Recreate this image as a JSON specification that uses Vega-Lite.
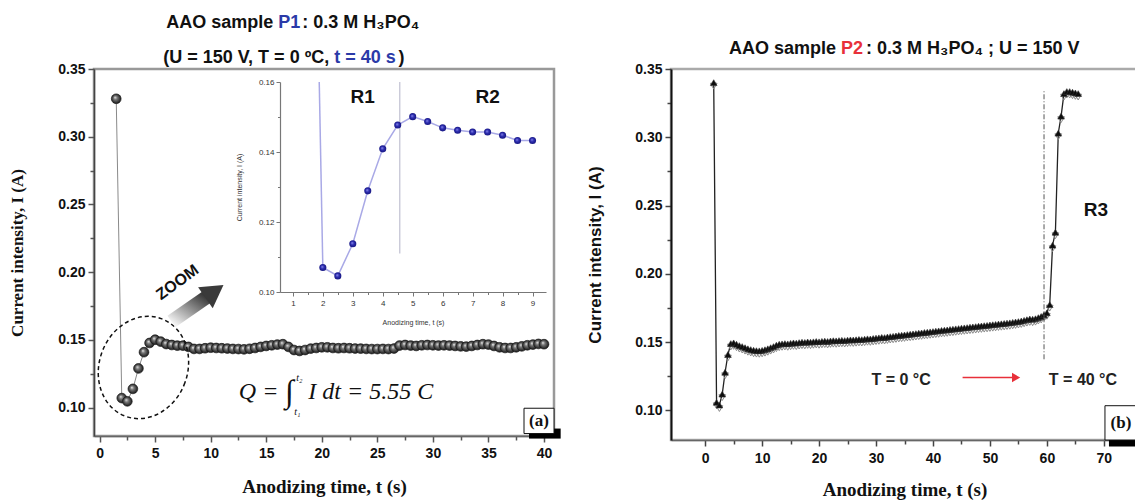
{
"$schema": "https://vega.github.io/schema/vega-lite/v6.json",
"padding": {"left": 7, "top": 13, "right": 0, "bottom": 0},
"spacing": 117,
"bounds": "flush",
"background": "white",
"datasets": {
"p1": [
{"t":1.5,"I":0.328},{"t":2,"I":0.107},{"t":2.5,"I":0.1046},{"t":3,"I":0.1138},{"t":3.5,"I":0.1289},{"t":4,"I":0.1409},{"t":4.5,"I":0.1477},{"t":5,"I":0.1501},{"t":5.5,"I":0.1487},{"t":6,"I":0.1469},{"t":6.5,"I":0.1462},{"t":7,"I":0.1457},{"t":7.5,"I":0.1457},{"t":8,"I":0.1448},{"t":8.5,"I":0.1433},{"t":9,"I":0.1433},{"t":9.5,"I":0.1438},{"t":10,"I":0.1442},{"t":10.5,"I":0.144},{"t":11,"I":0.1438},{"t":11.5,"I":0.1436},{"t":12,"I":0.1433},{"t":12.5,"I":0.1432},{"t":13,"I":0.143},{"t":13.5,"I":0.1434},{"t":14,"I":0.144},{"t":14.5,"I":0.1448},{"t":15,"I":0.1455},{"t":15.5,"I":0.146},{"t":16,"I":0.1465},{"t":16.5,"I":0.1468},{"t":17,"I":0.1448},{"t":17.5,"I":0.1425},{"t":18,"I":0.1418},{"t":18.5,"I":0.1425},{"t":19,"I":0.1435},{"t":19.5,"I":0.144},{"t":20,"I":0.1445},{"t":20.5,"I":0.1445},{"t":21,"I":0.144},{"t":21.5,"I":0.1438},{"t":22,"I":0.144},{"t":22.5,"I":0.1438},{"t":23,"I":0.1436},{"t":23.5,"I":0.1435},{"t":24,"I":0.1433},{"t":24.5,"I":0.1432},{"t":25,"I":0.1432},{"t":25.5,"I":0.1433},{"t":26,"I":0.1432},{"t":26.5,"I":0.1436},{"t":27,"I":0.1458},{"t":27.5,"I":0.1462},{"t":28,"I":0.1458},{"t":28.5,"I":0.1455},{"t":29,"I":0.146},{"t":29.5,"I":0.1462},{"t":30,"I":0.146},{"t":30.5,"I":0.1458},{"t":31,"I":0.146},{"t":31.5,"I":0.1458},{"t":32,"I":0.1455},{"t":32.5,"I":0.1452},{"t":33,"I":0.145},{"t":33.5,"I":0.1455},{"t":34,"I":0.1462},{"t":34.5,"I":0.1468},{"t":35,"I":0.1465},{"t":35.5,"I":0.1455},{"t":36,"I":0.1445},{"t":36.5,"I":0.144},{"t":37,"I":0.144},{"t":37.5,"I":0.1445},{"t":38,"I":0.1452},{"t":38.5,"I":0.146},{"t":39,"I":0.1465},{"t":39.5,"I":0.147},{"t":40,"I":0.1468}
],
"p2": [
{"t":1.5,"I":0.34},{"t":2,"I":0.106},{"t":2.5,"I":0.104},{"t":3,"I":0.112},{"t":3.5,"I":0.128},{"t":4,"I":0.141},{"t":4.5,"I":0.149},{"t":5,"I":0.1495},{"t":5.5,"I":0.1485},{"t":6,"I":0.1475},{"t":6.5,"I":0.1468},{"t":7,"I":0.146},{"t":7.5,"I":0.1452},{"t":8,"I":0.1446},{"t":8.5,"I":0.1441},{"t":9,"I":0.1438},{"t":9.5,"I":0.1437},{"t":10,"I":0.144},{"t":10.5,"I":0.1445},{"t":11,"I":0.1452},{"t":11.5,"I":0.146},{"t":12,"I":0.1468},{"t":12.5,"I":0.1478},{"t":13,"I":0.1485},{"t":13.5,"I":0.1488},{"t":14,"I":0.149},{"t":14.5,"I":0.1488},{"t":15,"I":0.1492},{"t":15.5,"I":0.1495},{"t":16,"I":0.1493},{"t":16.5,"I":0.1497},{"t":17,"I":0.15},{"t":17.5,"I":0.1498},{"t":18,"I":0.1502},{"t":18.5,"I":0.15},{"t":19,"I":0.1503},{"t":19.5,"I":0.1505},{"t":20,"I":0.1503},{"t":20.5,"I":0.1506},{"t":21,"I":0.1508},{"t":21.5,"I":0.1505},{"t":22,"I":0.1509},{"t":22.5,"I":0.1511},{"t":23,"I":0.151},{"t":23.5,"I":0.1512},{"t":24,"I":0.1514},{"t":24.5,"I":0.1512},{"t":25,"I":0.1515},{"t":25.5,"I":0.1517},{"t":26,"I":0.1516},{"t":26.5,"I":0.1518},{"t":27,"I":0.152},{"t":27.5,"I":0.1519},{"t":28,"I":0.1522},{"t":28.5,"I":0.1525},{"t":29,"I":0.1524},{"t":29.5,"I":0.1527},{"t":30,"I":0.153},{"t":30.5,"I":0.1532},{"t":31,"I":0.1535},{"t":31.5,"I":0.1534},{"t":32,"I":0.1538},{"t":32.5,"I":0.1541},{"t":33,"I":0.1543},{"t":33.5,"I":0.1546},{"t":34,"I":0.1549},{"t":34.5,"I":0.1551},{"t":35,"I":0.1553},{"t":35.5,"I":0.1556},{"t":36,"I":0.1558},{"t":36.5,"I":0.1561},{"t":37,"I":0.1563},{"t":37.5,"I":0.1566},{"t":38,"I":0.1568},{"t":38.5,"I":0.1571},{"t":39,"I":0.1573},{"t":39.5,"I":0.1576},{"t":40,"I":0.1578},{"t":40.5,"I":0.1581},{"t":41,"I":0.1583},{"t":41.5,"I":0.1586},{"t":42,"I":0.1588},{"t":42.5,"I":0.159},{"t":43,"I":0.1593},{"t":43.5,"I":0.1595},{"t":44,"I":0.1598},{"t":44.5,"I":0.16},{"t":45,"I":0.1603},{"t":45.5,"I":0.1605},{"t":46,"I":0.1607},{"t":46.5,"I":0.161},{"t":47,"I":0.1612},{"t":47.5,"I":0.1614},{"t":48,"I":0.1617},{"t":48.5,"I":0.1619},{"t":49,"I":0.1621},{"t":49.5,"I":0.1623},{"t":50,"I":0.1626},{"t":50.5,"I":0.1628},{"t":51,"I":0.163},{"t":51.5,"I":0.1633},{"t":52,"I":0.1635},{"t":52.5,"I":0.1637},{"t":53,"I":0.164},{"t":53.5,"I":0.1642},{"t":54,"I":0.1645},{"t":54.5,"I":0.1648},{"t":55,"I":0.1651},{"t":55.5,"I":0.1655},{"t":56,"I":0.166},{"t":56.5,"I":0.1665},{"t":57,"I":0.167},{"t":57.5,"I":0.1668},{"t":58,"I":0.1672},{"t":58.5,"I":0.168},{"t":59,"I":0.1688},{"t":59.5,"I":0.17},{"t":60,"I":0.1715},{"t":60.5,"I":0.1775},{"t":61,"I":0.221},{"t":61.5,"I":0.2305},{"t":62,"I":0.303},{"t":62.5,"I":0.3155},{"t":63,"I":0.332},{"t":63.5,"I":0.3335},{"t":64,"I":0.3335},{"t":64.5,"I":0.333},{"t":65,"I":0.3325},{"t":65.5,"I":0.332}
]
},
"hconcat": [
{
"width": 460, "height": 367,
"view": {"stroke": "#999", "strokeWidth": 2.5},
"layer": [
{
"encoding": {
"x": {"field": "t", "type": "quantitative", "scale": {"domain": [-0.5, 40.9], "nice": false, "zero": false},
"axis": {"orient": "bottom", "title": "Anodizing time, t (s)", "values": [0,2.5,5,7.5,10,12.5,15,17.5,20,22.5,25,27.5,30,32.5,35,37.5,40],
"labelExpr": "datum.value % 5 === 0 ? format(datum.value, 'd') : ''",
"tickSize": {"condition": {"test": "datum.value % 5 === 0", "value": 6}, "value": 4},
"labelFont": "Liberation Sans", "labelFontWeight": "bold", "labelFontSize": 14, "labelColor": "#111", "labelPadding": 4,
"domainColor": "#666", "domainWidth": 1.5, "tickColor": "#555", "tickWidth": 1.5,
"titleFont": "Liberation Serif", "titleFontWeight": "bold", "titleFontSize": 19, "titleColor": "#111", "titlePadding": 17, "grid": false}},
"y": {"field": "I", "type": "quantitative", "scale": {"domain": [0.079, 0.35], "nice": false, "zero": false},
"axis": {"orient": "left", "title": "Current intensity, I (A)", "values": [0.1,0.125,0.15,0.175,0.2,0.225,0.25,0.275,0.3,0.325,0.35],
"labelExpr": "abs(datum.value*20-round(datum.value*20)) < 0.001 ? format(datum.value, '.2f') : ''",
"tickSize": {"condition": {"test": "abs(datum.value*20-round(datum.value*20)) < 0.001", "value": 6}, "value": 4},
"labelFont": "Liberation Sans", "labelFontWeight": "bold", "labelFontSize": 14, "labelColor": "#111", "labelPadding": 3,
"domainColor": "#444", "domainWidth": 1.5, "tickColor": "#555", "tickWidth": 1.5,
"titleFont": "Liberation Serif", "titleFontWeight": "bold", "titleFontSize": 17, "titleColor": "#111", "titlePadding": 31, "grid": false}}
},
"layer": [
{"data": {"name": "p1"}, "mark": {"type": "line", "color": "#8a8a8a", "strokeWidth": 1}},
{"data": {"name": "p1"}, "mark": {"type": "point", "filled": true, "opacity": 1, "size": 95, "strokeWidth": 0.7, "stroke": "#1a1a1a",
"fill": {"gradient": "radial", "x1": 0.38, "y1": 0.35, "r1": 0, "x2": 0.5, "y2": 0.5, "r2": 0.55, "stops": [{"offset": 0, "color": "#f0f0f0"}, {"offset": 0.33, "color": "#7a7a7a"}, {"offset": 1, "color": "#0d0d0d"}]}}},
{"data": {"values": [{"t": 3.95, "I": 0.1296}]}, "mark": {"type": "point", "shape": "M 0.85 0 C 0.85 0.5523 0.4695 1 0 1 C -0.4695 1 -0.85 0.5523 -0.85 0 C -0.85 -0.5523 -0.4695 -1 0 -1 C 0.4695 -1 0.85 -0.5523 0.85 0 Z", "size": 10816, "filled": false, "opacity": 1, "stroke": "#111", "strokeWidth": 1.5, "strokeDash": [4, 3], "angle": 20}},
{"data": {"values": [{"t": 6.47, "I": 0.1636, "t2": 9.62, "I2": 0.1814}]}, "mark": {"type": "rule", "strokeWidth": 14, "strokeCap": "butt",
"stroke": {"gradient": "linear", "x1": 0, "y1": 1, "x2": 1, "y2": 0, "stops": [{"offset": 0, "color": "#f2f2f2"}, {"offset": 1, "color": "#3a3a3a"}]}},
"encoding": {"x2": {"field": "t2"}, "y2": {"field": "I2"}}},
{"data": {"values": [{"t": 10.34, "I": 0.1858}]}, "mark": {"type": "point", "shape": "triangle-right", "size": 650, "filled": true, "opacity": 1, "fill": "#3a3a3a", "strokeWidth": 0, "angle": -35}},
{"data": {"values": [{"t": 7.01, "I": 0.1925, "label": "ZOOM"}]}, "mark": {"type": "text", "font": "Liberation Sans", "fontWeight": "bold", "fontSize": 16, "angle": -36, "color": "#111"}, "encoding": {"text": {"field": "label"}}},
{"data": {"values": [{"t": 16.09, "I": 0.1118, "label": "Q ="}]}, "mark": {"type": "text", "font": "Liberation Serif", "fontStyle": "italic", "fontSize": 24, "align": "right", "baseline": "middle", "color": "#111"}, "encoding": {"text": {"field": "label"}}},
{"data": {"values": [{"t": 17.08, "I": 0.1118, "label": "∫"}]}, "mark": {"type": "text", "font": "Liberation Serif", "fontStyle": "italic", "fontSize": 32, "align": "center", "baseline": "middle", "color": "#111"}, "encoding": {"text": {"field": "label"}}},
{"data": {"values": [{"t": 18.79, "I": 0.1118, "label": "I dt = 5.55 C"}]}, "mark": {"type": "text", "font": "Liberation Serif", "fontStyle": "italic", "fontSize": 24, "align": "left", "baseline": "middle", "color": "#111"}, "encoding": {"text": {"field": "label"}}},
{"data": {"values": [{"t": 17.7, "I": 0.1215, "label": "t₂"}, {"t": 17.53, "I": 0.097, "label": "t₁"}]}, "mark": {"type": "text", "font": "Liberation Serif", "fontStyle": "italic", "fontSize": 10, "align": "left", "baseline": "middle", "color": "#111"}, "encoding": {"text": {"field": "label"}}},
{"data": {"values": [{"t": 38.65, "I": 0.0771, "t2": 41.5, "I2": 0.0845}]}, "mark": {"type": "rect", "color": "#000"}, "encoding": {"x2": {"field": "t2"}, "y2": {"field": "I2"}}},
{"data": {"values": [{"t": 38.2, "I": 0.0808, "t2": 40.9, "I2": 0.0995}]}, "mark": {"type": "rect", "fill": "#fff", "stroke": "#111", "strokeWidth": 1}, "encoding": {"x2": {"field": "t2"}, "y2": {"field": "I2"}}},
{"data": {"values": [{"t": 39.55, "I": 0.0898, "label": "(a)"}]}, "mark": {"type": "text", "font": "Liberation Serif", "fontWeight": "bold", "fontSize": 17, "align": "center", "baseline": "middle", "color": "#111"}, "encoding": {"text": {"field": "label"}}},
{"data": {"values": [{"t": 15.64, "I": 0.3837, "label": "AAO sample"}, {"t": 20.67, "I": 0.3581, "label": "(U = 150 V, T = 0 ºC,"}]}, "mark": {"type": "text", "font": "Liberation Sans", "fontWeight": "bold", "fontSize": 18, "align": "right", "baseline": "middle", "color": "#111"}, "encoding": {"text": {"field": "label"}}},
{"data": {"values": [{"t": 18.25, "I": 0.3837, "label": ":  0.3 M H₃PO₄"}, {"t": 26.9, "I": 0.3581, "label": ")"}]}, "mark": {"type": "text", "font": "Liberation Sans", "fontWeight": "bold", "fontSize": 18, "align": "left", "baseline": "middle", "color": "#111"}, "encoding": {"text": {"field": "label"}}},
{"data": {"values": [{"t": 16.09, "I": 0.3837, "label": "P1"}, {"t": 21.12, "I": 0.3581, "label": "t = 40 s"}]}, "mark": {"type": "text", "font": "Liberation Sans", "fontWeight": "bold", "fontSize": 18, "align": "left", "baseline": "middle", "color": "#2b3aa8"}, "encoding": {"text": {"field": "label"}}}
]
},
{
"encoding": {
"x": {"field": "t", "type": "quantitative", "scale": {"domain": [0.57, 9.45], "range": [186, 452], "nice": false, "zero": false},
"axis": {"orient": "bottom", "offset": -144, "title": "Anodizing time, t (s)", "values": [1,1.5,2,2.5,3,3.5,4,4.5,5,5.5,6,6.5,7,7.5,8,8.5,9],
"labelExpr": "datum.value % 1 === 0 ? format(datum.value, 'd') : ''",
"tickSize": {"condition": {"test": "datum.value % 1 === 0", "value": 4}, "value": 2.5},
"labelFont": "Liberation Sans", "labelFontSize": 8, "labelColor": "#333", "labelPadding": 3,
"domainColor": "#777", "domainWidth": 1.2, "tickColor": "#777", "tickWidth": 1,
"titleFont": "Liberation Sans", "titleFontWeight": "normal", "titleFontSize": 7, "titleColor": "#333", "titlePadding": 11, "grid": false}},
"y": {"field": "I", "type": "quantitative", "scale": {"domain": [0.1, 0.16], "range": [223, 13], "nice": false, "zero": false},
"axis": {"orient": "left", "offset": -186, "title": "Current intensity, I (A)", "values": [0.1,0.11,0.12,0.13,0.14,0.15,0.16],
"labelExpr": "abs(datum.value*50-round(datum.value*50)) < 0.001 ? format(datum.value, '.2f') : ''",
"tickSize": {"condition": {"test": "abs(datum.value*50-round(datum.value*50)) < 0.001", "value": 4}, "value": 2.5},
"labelFont": "Liberation Sans", "labelFontSize": 8, "labelColor": "#333", "labelPadding": 2,
"domainColor": "#777", "domainWidth": 1.2, "tickColor": "#777", "tickWidth": 1,
"titleFont": "Liberation Sans", "titleFontWeight": "normal", "titleFontSize": 7, "titleColor": "#333", "titlePadding": 16, "grid": false}}
},
"layer": [
{"data": {"name": "p1"}, "transform": [{"filter": "datum.t >= 2 && datum.t <= 9"}], "mark": {"type": "line", "color": "#a9a9e6", "strokeWidth": 1.5}},
{"data": {"values": [{"t": 1.88, "I": 0.16, "t2": 2.0, "I2": 0.107}]}, "mark": {"type": "rule", "color": "#a9a9e6", "strokeWidth": 1.5}, "encoding": {"x2": {"field": "t2"}, "y2": {"field": "I2"}}},
{"data": {"values": [{"t": 4.57, "I": 0.111, "I2": 0.16}]}, "mark": {"type": "rule", "color": "#b4b4c8", "strokeWidth": 1}, "encoding": {"y2": {"field": "I2"}}},
{"data": {"name": "p1"}, "transform": [{"filter": "datum.t >= 2 && datum.t <= 9"}], "mark": {"type": "point", "filled": true, "opacity": 1, "size": 50, "strokeWidth": 0,
"fill": {"gradient": "radial", "x1": 0.4, "y1": 0.38, "r1": 0, "x2": 0.5, "y2": 0.5, "r2": 0.55, "stops": [{"offset": 0, "color": "#9090ee"}, {"offset": 0.45, "color": "#2d2db0"}, {"offset": 1, "color": "#14147a"}]}}},
{"data": {"values": [{"t": 3.33, "I": 0.1557, "label": "R1"}, {"t": 7.5, "I": 0.1557, "label": "R2"}]}, "mark": {"type": "text", "font": "Liberation Sans", "fontWeight": "bold", "fontSize": 19, "align": "center", "baseline": "middle", "color": "#111"}, "encoding": {"text": {"field": "label"}}}
]
}
],
"resolve": {"scale": {"x": "independent", "y": "independent"}}
},
{
"width": 467, "height": 371,
"view": {"stroke": "#aaa", "strokeWidth": 2.5},
"encoding": {
"x": {"field": "t", "type": "quantitative", "scale": {"domain": [-6, 76], "nice": false, "zero": false},
"axis": {"orient": "bottom", "title": "Anodizing time, t (s)", "values": [0,5,10,15,20,25,30,35,40,45,50,55,60,65,70],
"labelExpr": "datum.value % 10 === 0 ? format(datum.value, 'd') : ''",
"tickSize": {"condition": {"test": "datum.value % 10 === 0", "value": 6}, "value": 4},
"labelFont": "Liberation Sans", "labelFontWeight": "bold", "labelFontSize": 14, "labelColor": "#111", "labelPadding": 5,
"domainColor": "#666", "domainWidth": 1.5, "tickColor": "#444", "tickWidth": 1.5,
"titleFont": "Liberation Serif", "titleFontWeight": "bold", "titleFontSize": 19, "titleColor": "#111", "titlePadding": 15, "grid": false}},
"y": {"field": "I", "type": "quantitative", "scale": {"domain": [0.0784, 0.35], "nice": false, "zero": false},
"axis": {"orient": "left", "title": "Current intensity, I (A)", "values": [0.1,0.125,0.15,0.175,0.2,0.225,0.25,0.275,0.3,0.325,0.35],
"labelExpr": "abs(datum.value*20-round(datum.value*20)) < 0.001 ? format(datum.value, '.2f') : ''",
"tickSize": {"condition": {"test": "abs(datum.value*20-round(datum.value*20)) < 0.001", "value": 6}, "value": 4},
"labelFont": "Liberation Sans", "labelFontWeight": "bold", "labelFontSize": 14, "labelColor": "#111", "labelPadding": 3,
"domainColor": "#111", "domainWidth": 2, "tickColor": "#444", "tickWidth": 1.5,
"titleFont": "Liberation Sans", "titleFontWeight": "bold", "titleFontSize": 17, "titleColor": "#111", "titlePadding": 30, "grid": false}}
},
"layer": [
{"data": {"name": "p2"}, "mark": {"type": "line", "color": "#222", "strokeWidth": 1.3}},
{"data": {"name": "p2"}, "mark": {"type": "point", "shape": "triangle-down", "filled": false, "opacity": 1, "size": 45, "stroke": "#8a8a8a", "strokeWidth": 1, "yOffset": 3.5}},
{"data": {"name": "p2"}, "mark": {"type": "point", "shape": "triangle-up", "filled": true, "opacity": 1, "size": 45, "fill": "#0d0d0d", "stroke": "#333", "strokeWidth": 0.6}},
{"data": {"values": [{"t": 59.5, "I": 0.1375, "I2": 0.334}]}, "mark": {"type": "rule", "color": "#555", "strokeWidth": 1, "strokeDash": [5, 2, 1, 2]}, "encoding": {"y2": {"field": "I2"}}},
{"data": {"values": [{"t": 68.6, "I": 0.2468, "label": "R3"}]}, "mark": {"type": "text", "font": "Liberation Sans", "fontWeight": "bold", "fontSize": 19, "align": "center", "baseline": "middle", "color": "#111"}, "encoding": {"text": {"field": "label"}}},
{"data": {"values": [{"t": 34.4, "I": 0.1226, "label": "T = 0 °C"}]}, "mark": {"type": "text", "font": "Liberation Sans", "fontWeight": "bold", "fontSize": 16, "align": "center", "baseline": "middle", "color": "#222"}, "encoding": {"text": {"field": "label"}}},
{"data": {"values": [{"t": 60.35, "I": 0.1226, "label": "T = 40 °C"}]}, "mark": {"type": "text", "font": "Liberation Sans", "fontWeight": "bold", "fontSize": 16, "align": "left", "baseline": "middle", "color": "#222"}, "encoding": {"text": {"field": "label"}}},
{"data": {"values": [{"t": 45.2, "I": 0.1241, "t2": 54.0}]}, "mark": {"type": "rule", "color": "#e8303a", "strokeWidth": 1.5}, "encoding": {"x2": {"field": "t2"}}},
{"data": {"values": [{"t": 54.6, "I": 0.1241}]}, "mark": {"type": "point", "shape": "triangle-right", "size": 90, "filled": true, "opacity": 1, "fill": "#e8303a", "strokeWidth": 0}},
{"data": {"values": [{"t": 70.9, "I": 0.0737, "t2": 78, "I2": 0.081}]}, "mark": {"type": "rect", "color": "#000"}, "encoding": {"x2": {"field": "t2"}, "y2": {"field": "I2"}}},
{"data": {"values": [{"t": 70.2, "I": 0.0784, "t2": 77, "I2": 0.1035}]}, "mark": {"type": "rect", "fill": "#fff", "stroke": "#111", "strokeWidth": 1}, "encoding": {"x2": {"field": "t2"}, "y2": {"field": "I2"}}},
{"data": {"values": [{"t": 73.0, "I": 0.0907, "label": "(b)"}]}, "mark": {"type": "text", "font": "Liberation Serif", "fontWeight": "bold", "fontSize": 17, "align": "center", "baseline": "middle", "color": "#111"}, "encoding": {"text": {"field": "label"}}},
{"data": {"values": [{"t": 22.98, "I": 0.3647, "label": "AAO sample"}]}, "mark": {"type": "text", "font": "Liberation Sans", "fontWeight": "bold", "fontSize": 18, "align": "right", "baseline": "middle", "color": "#111"}, "encoding": {"text": {"field": "label"}}},
{"data": {"values": [{"t": 28.25, "I": 0.3647, "label": ":  0.3 M H₃PO₄ ; U = 150 V"}]}, "mark": {"type": "text", "font": "Liberation Sans", "fontWeight": "bold", "fontSize": 18, "align": "left", "baseline": "middle", "color": "#111"}, "encoding": {"text": {"field": "label"}}},
{"data": {"values": [{"t": 23.86, "I": 0.3647, "label": "P2"}]}, "mark": {"type": "text", "font": "Liberation Sans", "fontWeight": "bold", "fontSize": 18, "align": "left", "baseline": "middle", "color": "#e8303a"}, "encoding": {"text": {"field": "label"}}}
]
}
],
"config": {"font": "Liberation Sans", "axis": {"grid": false}}
}
